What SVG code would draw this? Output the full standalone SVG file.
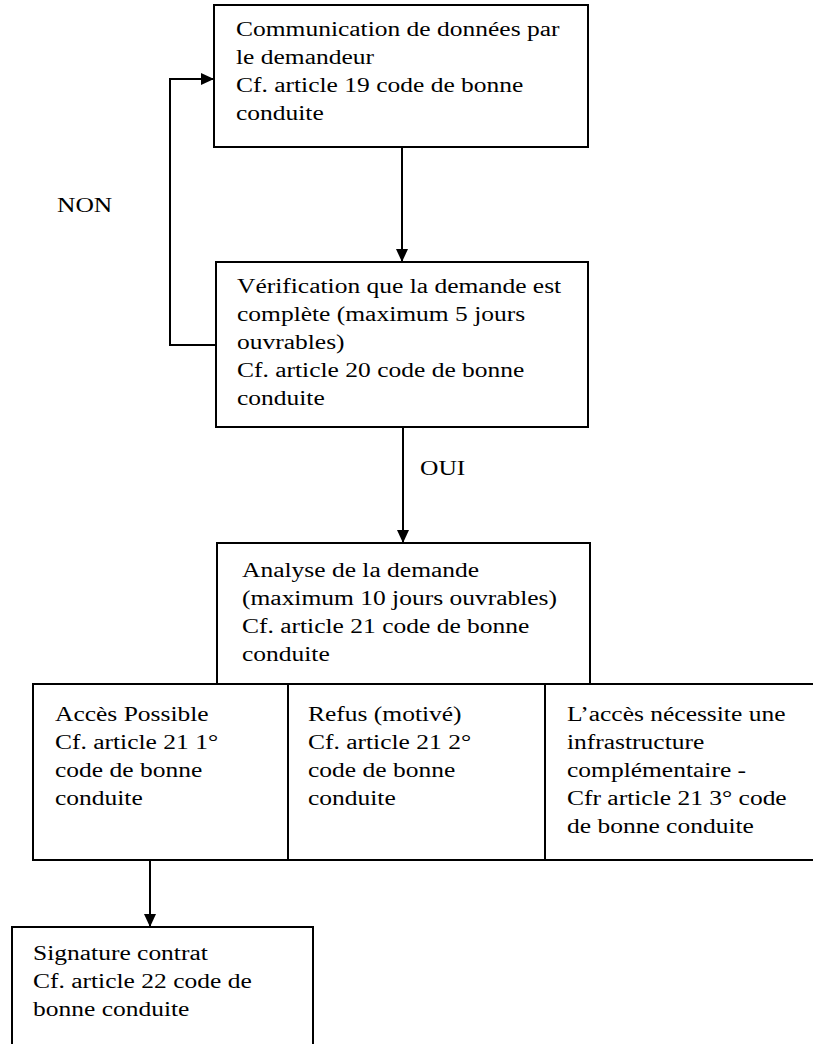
<svg xmlns="http://www.w3.org/2000/svg" width="813" height="1044" viewBox="0 0 813 1044">
<defs>
<style>
.box{fill:none;stroke:#000;stroke-width:2}
.edge{fill:none;stroke:#000;stroke-width:2}
.t{font-family:"Liberation Serif","Times New Roman",serif;font-size:20px;fill:#000}
</style>
<marker id="ah" markerUnits="userSpaceOnUse" markerWidth="14" markerHeight="12" refX="13" refY="6" orient="auto">
<path d="M0,0 L13,6 L0,12 z" fill="#000"/>
</marker>
</defs>
<rect width="813" height="1044" fill="#fff"/>
<g id="connectors">
<path class="edge" d="M402,147 L402,262" marker-end="url(#ah)"/>
<path class="edge" d="M216,345 L170,345 L170,79 L214,79" marker-end="url(#ah)"/>
<path class="edge" d="M403,427 L403,543" marker-end="url(#ah)"/>
<path class="edge" d="M150,860 L150,927" marker-end="url(#ah)"/>
</g>
<g id="label-non"><text class="t" transform="translate(57,0) scale(1.275,1)"><tspan x="0" y="212">NON</tspan></text></g>
<g id="label-oui"><text class="t" transform="translate(420,0) scale(1.275,1)"><tspan x="0" y="475">OUI</tspan></text></g>
<g id="n1">
<rect class="box" x="214" y="5" width="374" height="142"/>
<text class="t" transform="translate(236,0) scale(1.275,1)"><tspan x="0" y="36">Communication de données par</tspan><tspan x="0" y="64">le demandeur</tspan><tspan x="0" y="92">Cf. article 19 code de bonne</tspan><tspan x="0" y="120">conduite</tspan></text>
</g>
<g id="n2">
<rect class="box" x="216" y="262" width="372" height="165"/>
<text class="t" transform="translate(237,0) scale(1.275,1)"><tspan x="0" y="293">Vérification que la demande est</tspan><tspan x="0" y="321">complète (maximum 5 jours</tspan><tspan x="0" y="349">ouvrables)</tspan><tspan x="0" y="377">Cf. article 20 code de bonne</tspan><tspan x="0" y="405">conduite</tspan></text>
</g>
<g id="n3">
<rect class="box" x="217" y="543" width="373" height="141"/>
<text class="t" transform="translate(242,0) scale(1.275,1)"><tspan x="0" y="577">Analyse de la demande</tspan><tspan x="0" y="605">(maximum 10 jours ouvrables)</tspan><tspan x="0" y="633">Cf. article 21 code de bonne</tspan><tspan x="0" y="661">conduite</tspan></text>
</g>
<g id="n4">
<rect class="box" x="33" y="684" width="255" height="176"/>
<text class="t" transform="translate(55,0) scale(1.275,1)"><tspan x="0" y="721">Accès Possible</tspan><tspan x="0" y="749">Cf. article 21 1°</tspan><tspan x="0" y="777">code de bonne</tspan><tspan x="0" y="805">conduite</tspan></text>
</g>
<g id="n5">
<rect class="box" x="288" y="684" width="257" height="176"/>
<text class="t" transform="translate(308,0) scale(1.275,1)"><tspan x="0" y="721">Refus (motivé)</tspan><tspan x="0" y="749">Cf. article 21 2°</tspan><tspan x="0" y="777">code de bonne</tspan><tspan x="0" y="805">conduite</tspan></text>
</g>
<g id="n6">
<path class="box" d="M820,684 L545,684 L545,860 L820,860"/>
<text class="t" transform="translate(567,0) scale(1.275,1)"><tspan x="0" y="721">L’accès nécessite une</tspan><tspan x="0" y="749">infrastructure</tspan><tspan x="0" y="777">complémentaire -</tspan><tspan x="0" y="805">Cfr article 21 3° code</tspan><tspan x="0" y="833">de bonne conduite</tspan></text>
</g>
<g id="n7">
<path class="box" d="M12,1050 L12,927 L313,927 L313,1050"/>
<text class="t" transform="translate(33,0) scale(1.275,1)"><tspan x="0" y="960">Signature contrat</tspan><tspan x="0" y="988">Cf. article 22 code de</tspan><tspan x="0" y="1016">bonne conduite</tspan></text>
</g>
</svg>
